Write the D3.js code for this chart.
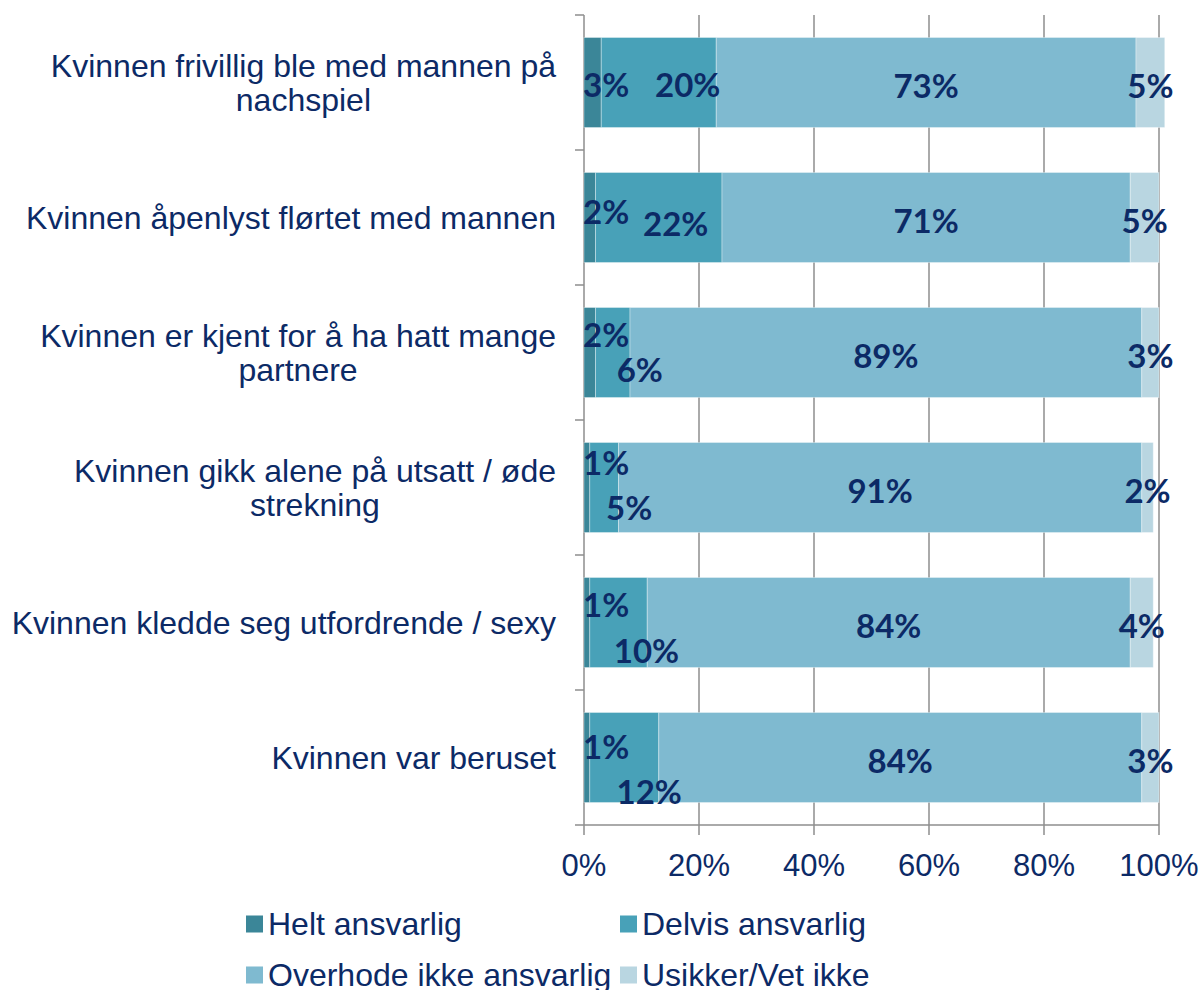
<!DOCTYPE html>
<html>
<head>
<meta charset="utf-8">
<script src="https://cdn.jsdelivr.net/npm/d3@7"></script>
<style>
  body { margin: 0; background: #fff; }
  svg { display: block; }
</style>
</head>
<body>
<div id="chart"></div>
<script>
// DATA
const categories = [
  "Kvinnen frivillig ble med mannen på\nnachspiel",
  "Kvinnen åpenlyst flørtet med mannen",
  "Kvinnen er kjent for å ha hatt mange\npartnere",
  "Kvinnen gikk alene på utsatt / øde\nstrekning",
  "Kvinnen kledde seg utfordrende / sexy",
  "Kvinnen var beruset"
];
const seriesNames = ["Helt ansvarlig", "Delvis ansvarlig", "Overhode ikke ansvarlig", "Usikker/Vet ikke"];
const helt     = [3, 2, 2, 1, 1, 1];
const delvis   = [20, 22, 6, 5, 10, 12];
const overhode = [73, 71, 89, 91, 84, 84];
const usikker  = [5, 5, 3, 2, 4, 3];
const xTicks = [0, 20, 40, 60, 80, 100];

const colors = ["#3b8698", "#48a1b8", "#7fbad0", "#b9d6e1"];
const navy = "#0c2a66";

// label nudges for the crowded small segments (Excel style), per row: [dx, dy] of 2nd label, dy of 1st
const nudge2 = [[29, 1.5], [17, 5.5], [27, 16.5], [25, 19.5], [28, 27.5], [25, 33.5]];
const nudge1 = [1.5, -6.5, -18.5, -25.5, -18.5, -11.5];

const W = 1201, H = 990;
const svg = d3.select("#chart").append("svg").attr("width", W).attr("height", H);

const x = d3.scaleLinear().domain([0, 100]).range([584, 1159]);
const y = d3.scaleBand().domain(categories).range([15, 825]).paddingInner(1/3).paddingOuter(1/6);

const grid = "#8e8e8e";

// gridlines + x ticks
svg.append("g").selectAll("line")
  .data(xTicks)
  .join("line")
  .attr("x1", d => x(d)).attr("x2", d => x(d))
  .attr("y1", 15).attr("y2", 835)
  .attr("stroke", grid).attr("stroke-width", 1.5);

// y tick marks at band borders
const borders = categories.map(c => y(c) - y.step() * y.paddingInner() / 2);
borders.push(825);
svg.append("g").selectAll("line")
  .data(borders)
  .join("line")
  .attr("x1", 575).attr("x2", 584)
  .attr("y1", d => d).attr("y2", d => d)
  .attr("stroke", grid).attr("stroke-width", 1.5);

// x axis line
svg.append("line")
  .attr("x1", 584).attr("x2", x(100))
  .attr("y1", 825).attr("y2", 825)
  .attr("stroke", grid).attr("stroke-width", 1.5);

// stacked data
const table = categories.map((c, i) => ({
  cat: c, i,
  "Helt ansvarlig": helt[i],
  "Delvis ansvarlig": delvis[i],
  "Overhode ikke ansvarlig": overhode[i],
  "Usikker/Vet ikke": usikker[i]
}));
const stack = d3.stack().keys(seriesNames)(table);

const layers = svg.append("g").selectAll("g")
  .data(stack)
  .join("g")
  .attr("fill", (d, k) => colors[k]);

layers.selectAll("rect")
  .data(d => d)
  .join("rect")
  .attr("x", d => x(d[0]))
  .attr("width", d => x(d[1]) - x(d[0]))
  .attr("y", d => y(d.data.cat))
  .attr("height", y.bandwidth())
  .attr("stroke", "rgba(255,255,255,0.35)")
  .attr("stroke-width", 1);

// data labels
const labG = svg.append("g")
  .attr("font-family", "Lato, 'Open Sans', sans-serif")
  .attr("font-weight", "bold")
  .attr("font-size", 33)
  .attr("fill", navy)
  .attr("text-anchor", "middle")
  .attr("dominant-baseline", "central");

stack.forEach((layer, k) => {
  layer.forEach(d => {
    const i = d.data.i;
    let cx = x((d[0] + d[1]) / 2);
    let cy = y(d.data.cat) + y.bandwidth() / 2 + 2;
    const t = labG.append("text").text((d[1] - d[0]) + "%");
    if (k === 0) {
      const w = t.node().getComputedTextLength();
      cx = Math.max(cx, x(0) + w / 2 - 1);
      cy = y(d.data.cat) + y.bandwidth() / 2 + nudge1[i];
    } else if (k === 1) {
      cx += nudge2[i][0];
      cy = y(d.data.cat) + y.bandwidth() / 2 + nudge2[i][1];
    }
    t.attr("x", cx).attr("y", cy);
  });
});

// category labels (wrapped lines centered on each other, block right aligned)
const catG = svg.append("g")
  .attr("font-family", "'Liberation Sans', Arial, sans-serif")
  .attr("font-size", 32)
  .attr("fill", navy);

categories.forEach(c => {
  const lines = c.split("\n");
  const cyBand = y(c) + y.bandwidth() / 2;
  const lh = 34;
  const texts = lines.map((ln, j) => catG.append("text")
    .attr("text-anchor", "middle")
    .attr("dominant-baseline", "central")
    .attr("y", cyBand + (j - (lines.length - 1) / 2) * lh)
    .text(ln));
  const maxW = d3.max(texts, t => t.node().getComputedTextLength());
  texts.forEach(t => t.attr("x", 556 - maxW / 2));
});

// x tick labels
svg.append("g")
  .attr("font-family", "'Liberation Sans', Arial, sans-serif")
  .attr("font-size", 31)
  .attr("fill", navy)
  .attr("text-anchor", "middle")
  .selectAll("text")
  .data(xTicks)
  .join("text")
  .attr("x", d => x(d))
  .attr("y", 876)
  .text(d => d + "%");

// legend
const legPos = [[246, 924], [620, 924], [246, 975], [620, 975]];
const leg = svg.append("g")
  .attr("font-family", "'Liberation Sans', Arial, sans-serif")
  .attr("font-size", 32)
  .attr("fill", navy);
const li = leg.selectAll("g")
  .data(seriesNames)
  .join("g")
  .attr("transform", (d, k) => `translate(${legPos[k][0]},${legPos[k][1]})`);
li.append("rect")
  .attr("x", 0).attr("y", -8.5)
  .attr("width", 17).attr("height", 17)
  .attr("fill", (d, k) => colors[k]);
li.append("text")
  .attr("x", 22).attr("y", 0)
  .attr("dominant-baseline", "central")
  .text(d => d);
</script>
</body>
</html>
